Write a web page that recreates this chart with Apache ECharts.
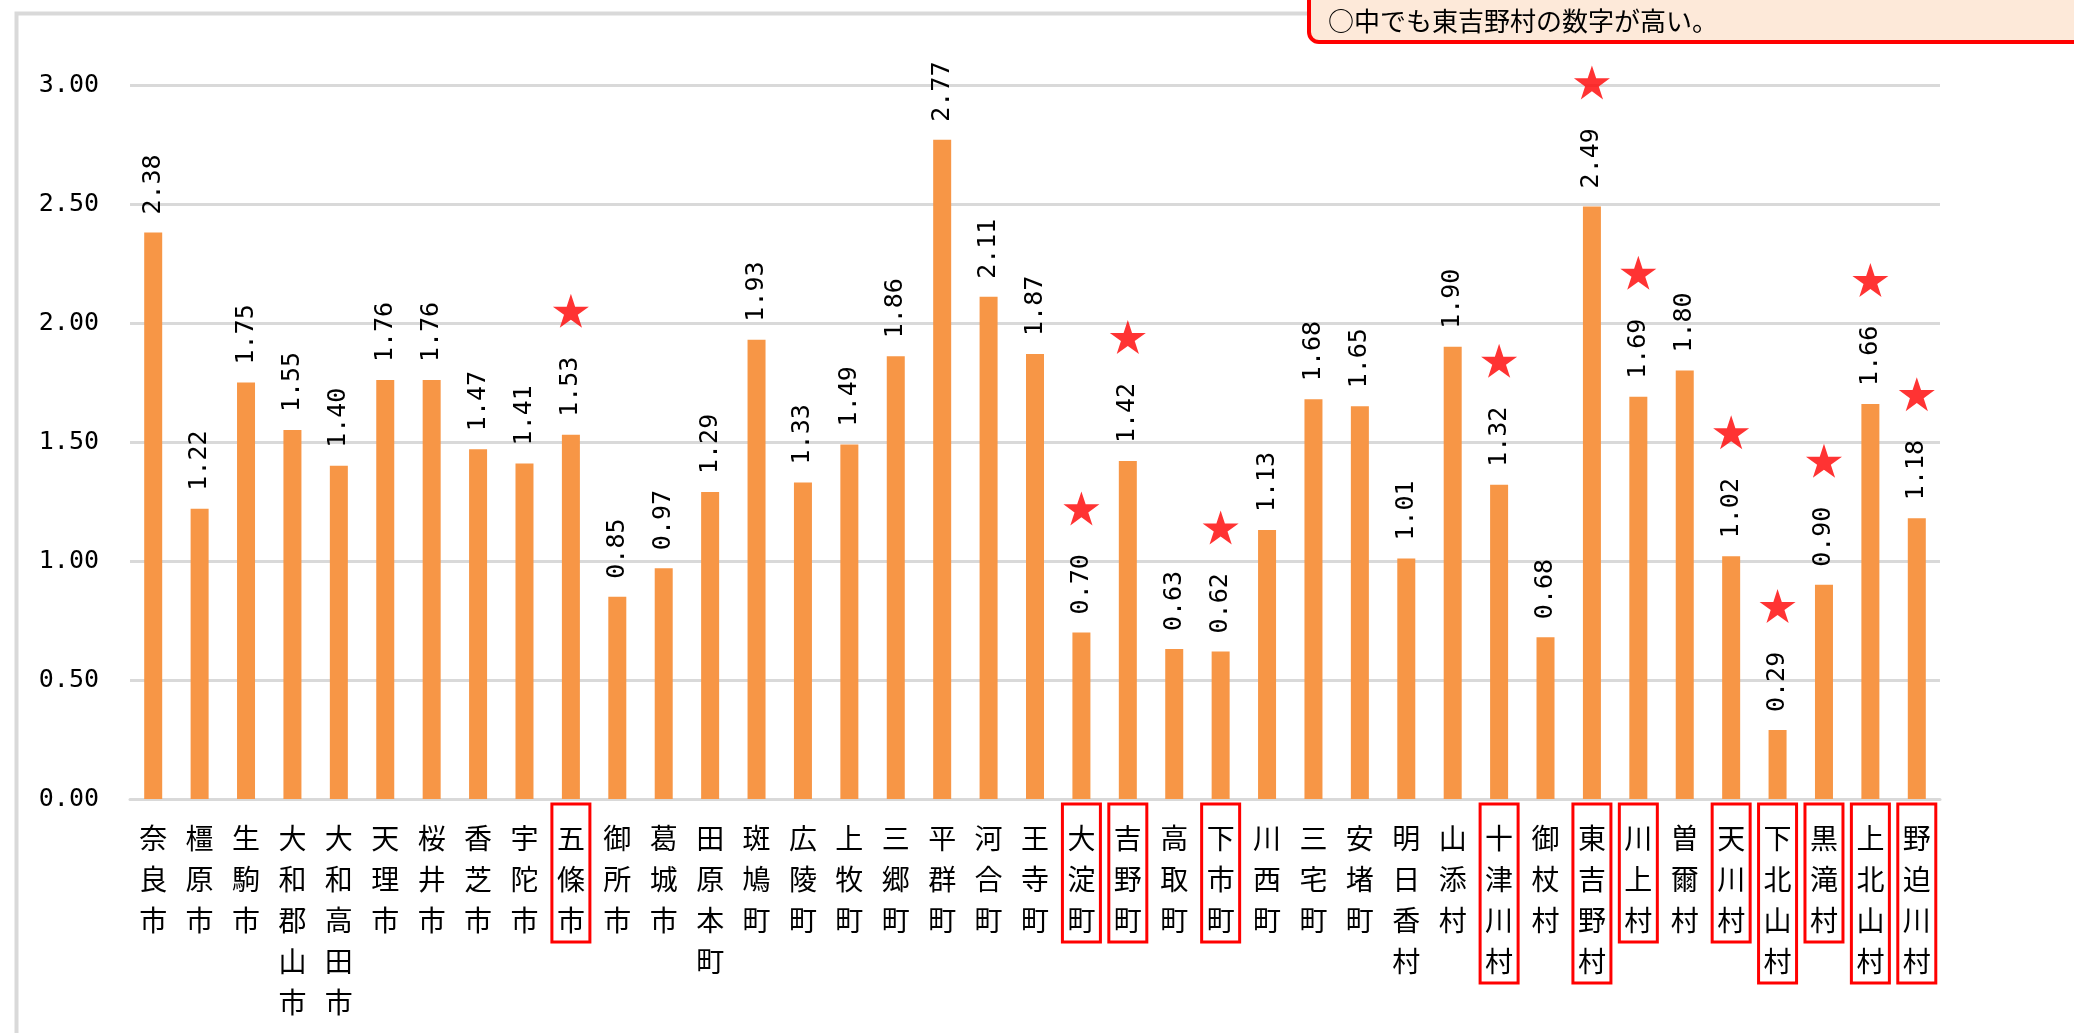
<!DOCTYPE html>
<html>
<head>
<meta charset="utf-8">
<title>奈良県 市町村別</title>
<script src="https://cdn.jsdelivr.net/npm/echarts@6/dist/echarts.min.js"></script>
<style>
  html, body { margin: 0; padding: 0; background: #ffffff; }
  #chart { width: 2074px; height: 1033px; }
</style>
</head>
<body>
<div id="chart"></div>
<script>
// 市町村名
const municipalities = [
  '奈良市', '橿原市', '生駒市', '大和郡山市', '大和高田市', '天理市', '桜井市', '香芝市',
  '宇陀市', '五條市', '御所市', '葛城市', '田原本町', '斑鳩町', '広陵町', '上牧町',
  '三郷町', '平群町', '河合町', '王寺町', '大淀町', '吉野町', '高取町', '下市町',
  '川西町', '三宅町', '安堵町', '明日香村', '山添村', '十津川村', '御杖村', '東吉野村',
  '川上村', '曽爾村', '天川村', '下北山村', '黒滝村', '上北山村', '野迫川村'
];

// 各市町村の数値
const values = [
  2.38, 1.22, 1.75, 1.55, 1.40, 1.76, 1.76, 1.47,
  1.41, 1.53, 0.85, 0.97, 1.29, 1.93, 1.33, 1.49,
  1.86, 2.77, 2.11, 1.87, 0.70, 1.42, 0.63, 0.62,
  1.13, 1.68, 1.65, 1.01, 1.90, 1.32, 0.68, 2.49,
  1.69, 1.80, 1.02, 0.29, 0.90, 1.66, 1.18
];

// ★印と赤枠を付ける市町村
const marked = [
  '五條市', '大淀町', '吉野町', '下市町', '十津川村', '東吉野村',
  '川上村', '天川村', '下北山村', '黒滝村', '上北山村', '野迫川村'
];

// 縦軸目盛
const yTicks = [0, 0.5, 1.0, 1.5, 2.0, 2.5, 3.0];

const note = '○中でも東吉野村の数字が高い。';

const NUM_FONT = "'DejaVu Sans Mono', 'Liberation Mono', monospace";
const JP_FONT = "'Noto Sans CJK JP', 'Noto Sans CJK SC', sans-serif";
const GRID_COLOR = '#D9D9D9';
const BAR_COLOR = '#F79646';
const STAR_PATH = 'path://M50,0 L61.2,34.5 L97.6,34.5 L68.2,55.9 L79.4,90.5 L50,69.1 L20.6,90.5 L31.8,55.9 L2.4,34.5 L38.8,34.5 Z';

const categoryData = municipalities.map(function (name) {
  if (marked.indexOf(name) >= 0) {
    return {
      value: name,
      textStyle: { borderColor: '#FF0000', borderWidth: 3 }
    };
  }
  return name;
});

const starData = [];
municipalities.forEach(function (name, i) {
  if (marked.indexOf(name) >= 0) starData.push([i, values[i]]);
});

const chart = echarts.init(document.getElementById('chart'), null, { renderer: 'canvas' });

chart.setOption({
  backgroundColor: '#ffffff',
  animation: false,
  grid: { left: 130, right: 134, top: 85, bottom: 234, containLabel: false },
  xAxis: {
    type: 'category',
    data: categoryData,
    axisTick: { show: false },
    axisLine: { show: true, lineStyle: { color: GRID_COLOR, width: 3 } },
    axisLabel: {
      interval: 0,
      margin: 5,
      color: '#000000',
      fontFamily: JP_FONT,
      fontSize: 28,
      lineHeight: 41,
      padding: [14, 5, 1, 5],
      verticalAlign: 'top',
      formatter: function (v) { return v.split('').join('\n'); }
    }
  },
  yAxis: {
    type: 'value',
    min: yTicks[0],
    max: yTicks[yTicks.length - 1],
    interval: yTicks[1] - yTicks[0],
    axisLine: { show: false },
    axisTick: { show: false },
    splitLine: { show: true, lineStyle: { color: GRID_COLOR, width: 3 } },
    axisLabel: {
      margin: 31,
      color: '#000000',
      fontFamily: NUM_FONT,
      fontSize: 25,
      formatter: function (v) { return v.toFixed(2); }
    }
  },
  series: [
    {
      type: 'bar',
      data: values,
      barWidth: 18,
      itemStyle: { color: BAR_COLOR },
      label: {
        show: true,
        position: 'top',
        distance: 18,
        rotate: 90,
        align: 'left',
        verticalAlign: 'middle',
        color: '#000000',
        fontFamily: NUM_FONT,
        fontSize: 25,
        formatter: function (p) { return p.value.toFixed(2); }
      },
      z: 2
    },
    {
      type: 'scatter',
      data: starData,
      symbol: STAR_PATH,
      symbolSize: [36, 34],
      symbolOffset: [0, -124],
      itemStyle: { color: '#FF0000' },
      silent: true,
      z: 3
    }
  ],
  graphic: [
    {
      type: 'rect',
      left: 14, top: 11,
      shape: { width: 2200, height: 1200 },
      style: { fill: 'none', stroke: GRID_COLOR, lineWidth: 4 },
      silent: true,
      z: 0
    },
    {
      type: 'rect',
      x: 1309, y: -30,
      shape: { width: 820, height: 72, r: 10 },
      style: { fill: '#FDE9D9', stroke: '#FF0000', lineWidth: 4 },
      z: 10
    },
    {
      type: 'text',
      x: 1328, y: 21,
      style: {
        text: note,
        fill: '#000000',
        font: '26px ' + JP_FONT,
        textVerticalAlign: 'middle',
        verticalAlign: 'middle'
      },
      z: 11
    }
  ]
});
</script>
</body>
</html>
